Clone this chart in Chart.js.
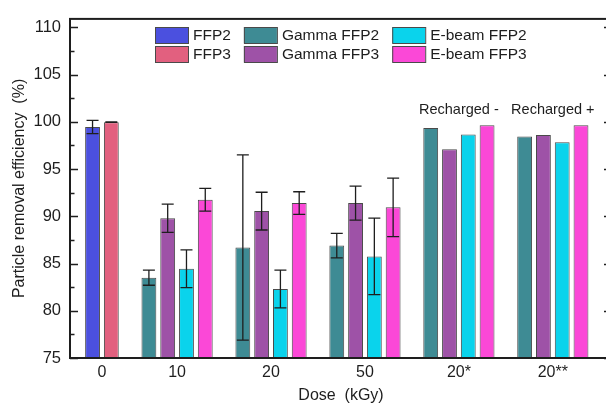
<!DOCTYPE html>
<html>
<head>
<meta charset="utf-8">
<script src="https://cdn.jsdelivr.net/npm/chart.js@4.4.1/dist/chart.umd.min.js"></script>
<style>
  html, body { margin: 0; padding: 0; background: #fff; overflow: hidden; }
  #wrap { width: 620px; height: 404px; }
</style>
</head>
<body>
<div id="wrap"><canvas id="chart"></canvas></div>
<script>
// dose groups along the x axis
const doses = ["0", "10", "20", "50", "20*", "20**"];

// particle removal efficiency (%) and error (±)
const ffp2 = [99.45, null, null, null, null, null];
const ffp2Err = [0.7, null, null, null, null, null];
const ffp3 = [99.97, null, null, null, null, null];
const ffp3Err = [0.03, null, null, null, null, null];
const gammaFfp2 = [null, 83.5, 86.7, 86.9, 99.35, 98.45];
const gammaFfp2Err = [null, 0.8, 9.8, 1.3, null, null];
const gammaFfp3 = [null, 89.8, 90.55, 91.4, 97.1, 98.6];
const gammaFfp3Err = [null, 1.5, 2.0, 1.8, null, null];
const ebeamFfp2 = [null, 84.45, 82.3, 85.75, 98.65, 97.85];
const ebeamFfp2Err = [null, 2.0, 2.0, 4.05, null, null];
const ebeamFfp3 = [null, 91.75, 91.4, 90.95, 99.65, 99.65];
const ebeamFfp3Err = [null, 1.2, 1.2, 3.1, null, null];

const yTicks = [75, 80, 85, 90, 95, 100, 105, 110];
const notes = [{ group: 4, text: "Recharged -" }, { group: 5, text: "Recharged +" }];

const FONT = "'Liberation Sans', Arial, sans-serif";
const INK = "#1e1e1e";

function points(values) {
    return values.map((v, i) => ({ x: i, y: v })).filter(p => p.y !== null);
}

function bars(label, values, errors, color, stack) {
    return {
        label: label,
        data: points(values),
        errors: errors,
        stack: stack,
        backgroundColor: color,
        borderColor: "#4a4a4a",
        borderWidth: 1,
        borderSkipped: false,
        categoryPercentage: 0.8,
        barPercentage: 0.79
    };
}

// order matters: stacks s1..s4 are the four slots of a group
const datasets = [
    bars("Gamma FFP2", gammaFfp2, gammaFfp2Err, "#3e8b94", "s1"),
    bars("Gamma FFP3", gammaFfp3, gammaFfp3Err, "#9e52a7", "s2"),
    bars("E-beam FFP2", ebeamFfp2, ebeamFfp2Err, "#0ad3ec", "s3"),
    bars("E-beam FFP3", ebeamFfp3, ebeamFfp3Err, "#fb48d7", "s4"),
    bars("FFP2", ffp2, ffp2Err, "#4b50df", "s3"),
    bars("FFP3", ffp3, ffp3Err, "#e2607f", "s4")
];

const legendColumns = [["FFP2", "FFP3"], ["Gamma FFP2", "Gamma FFP3"], ["E-beam FFP2", "E-beam FFP3"]];

// centre of the bars drawn for one dose group
function groupCenter(chart, k) {
    const xs = [];
    chart.data.datasets.forEach((ds, i) => {
        chart.getDatasetMeta(i).data.forEach((el, j) => {
            if (ds.data[j].x === k) xs.push(el.x);
        });
    });
    return xs.reduce((s, v) => s + v, 0) / xs.length;
}

const extras = {
    id: "extras",
    afterDatasetsDraw(chart) {
        const ctx = chart.ctx;
        const y = chart.scales.y;
        ctx.save();
        ctx.strokeStyle = INK;
        ctx.lineWidth = 1.3;
        chart.data.datasets.forEach((ds, i) => {
            const meta = chart.getDatasetMeta(i);
            meta.data.forEach((el, j) => {
                const p = ds.data[j];
                const e = ds.errors[p.x];
                if (e === null || e === undefined) return;
                const top = y.getPixelForValue(p.y + e);
                const bot = y.getPixelForValue(p.y - e);
                ctx.beginPath();
                ctx.moveTo(el.x, top);
                ctx.lineTo(el.x, bot);
                ctx.moveTo(el.x - 6, top);
                ctx.lineTo(el.x + 6, top);
                ctx.moveTo(el.x - 6, bot);
                ctx.lineTo(el.x + 6, bot);
                ctx.stroke();
            });
        });
        ctx.restore();
    },
    afterDraw(chart) {
        const ctx = chart.ctx;
        const a = chart.chartArea;
        const y = chart.scales.y;
        ctx.save();

        // frame
        ctx.strokeStyle = INK;
        ctx.lineWidth = 2;
        ctx.strokeRect(a.left, a.top, a.right - a.left, a.bottom - a.top);

        // inward ticks on left and right
        ctx.lineWidth = 1.3;
        yTicks.forEach(v => {
            [[v, 8], [v + 2.5, 4.5]].forEach(([val, len]) => {
                if (val > y.max) return;
                const py = Math.round(y.getPixelForValue(val)) + 0.5;
                ctx.beginPath();
                ctx.moveTo(a.left, py);
                ctx.lineTo(a.left + len, py);
                ctx.moveTo(a.right, py);
                ctx.lineTo(a.right - len, py);
                ctx.stroke();
            });
        });

        // dose labels under each group of bars
        ctx.fillStyle = INK;
        ctx.font = "16px " + FONT;
        ctx.textAlign = "center";
        ctx.textBaseline = "middle";
        doses.forEach((d, k) => {
            ctx.fillText(d, groupCenter(chart, k), a.bottom + 14.5);
        });

        // legend
        ctx.font = "15.5px " + FONT;
        ctx.textAlign = "left";
        let lx = 155;
        legendColumns.forEach(col => {
            let widest = 0;
            col.forEach((name, r) => {
                const ds = chart.data.datasets.find(d => d.label === name);
                const by = 27 + r * 19;
                ctx.fillStyle = ds.backgroundColor;
                ctx.fillRect(lx, by, 33, 16);
                ctx.strokeStyle = "#4a4a4a";
                ctx.lineWidth = 1;
                ctx.strokeRect(lx + 0.5, by + 0.5, 33, 16);
                ctx.fillStyle = INK;
                ctx.fillText(name, lx + 38, by + 8.5);
                widest = Math.max(widest, ctx.measureText(name).width);
            });
            lx += 38 + widest + 13;
        });

        // group notes
        ctx.font = "14.5px " + FONT;
        ctx.textAlign = "center";
        notes.forEach(n => {
            ctx.fillText(n.text, groupCenter(chart, n.group), y.getPixelForValue(101.3));
        });
        ctx.restore();
    }
};

new Chart(document.getElementById("chart"), {
    type: "bar",
    data: { datasets: datasets },
    options: {
        responsive: true,
        maintainAspectRatio: false,
        animation: false,
        layout: { padding: { top: 13, right: 8, left: 0, bottom: 0 } },
        plugins: {
            legend: { display: false },
            tooltip: { enabled: false }
        },
        scales: {
            x: {
                type: "linear",
                offset: false,
                min: -0.14,
                max: 5.63,
                grid: { display: false, drawTicks: false, offset: false },
                border: { display: false },
                ticks: {
                    display: false,
                    stepSize: 1,
                    includeBounds: false
                },
                title: {
                    display: true,
                    text: "Dose  (kGy)",
                    color: INK,
                    font: { family: FONT, size: 16, lineHeight: 1 },
                    padding: { top: 0, bottom: 0 }
                },
                afterFit(scale) { scale.height = 46; }
            },
            y: {
                stacked: false,
                beginAtZero: false,
                min: 75,
                max: 110.9,
                grid: { display: false, drawTicks: false },
                border: { display: false },
                ticks: {
                    stepSize: 5,
                    includeBounds: false,
                    padding: 9,
                    color: INK,
                    font: { family: FONT, size: 16.5 }
                },
                title: {
                    display: true,
                    text: "Particle removal efficiency  (%)",
                    color: INK,
                    font: { family: FONT, size: 16 },
                    padding: { top: 10, bottom: 0 }
                },
                afterFit(scale) { scale.width = 70; }
            }
        }
    },
    plugins: [extras]
});
</script>
</body>
</html>
